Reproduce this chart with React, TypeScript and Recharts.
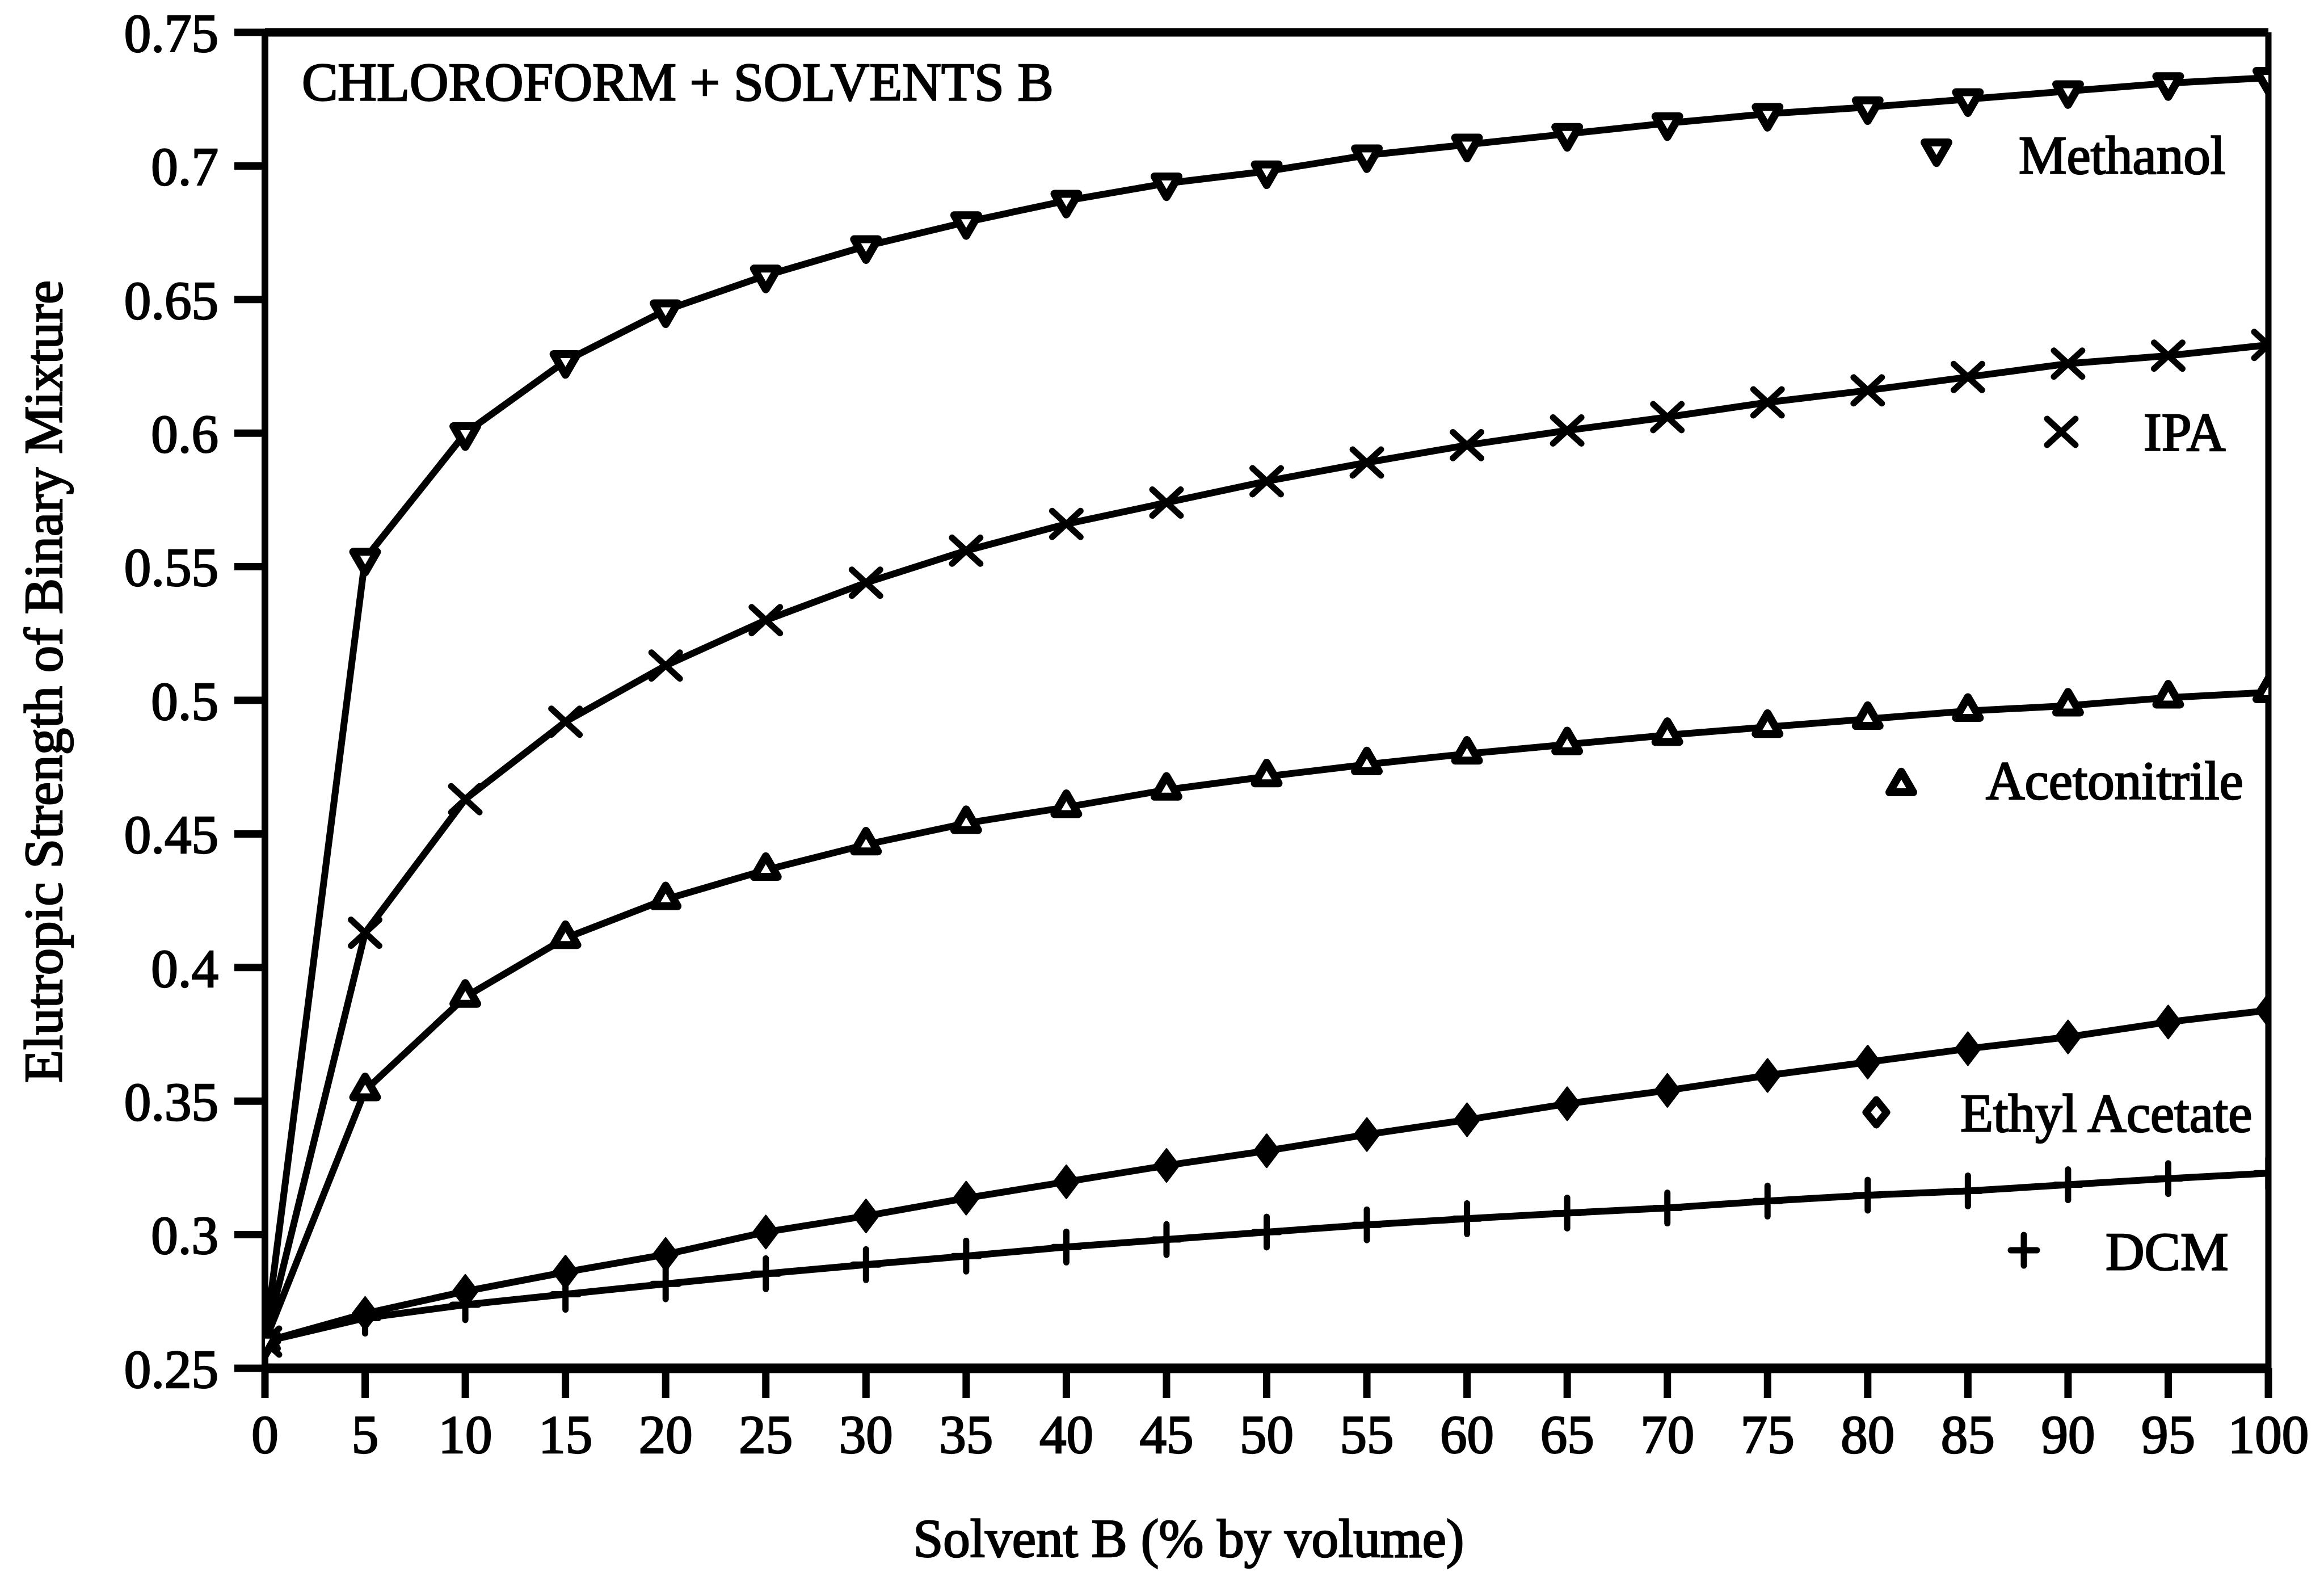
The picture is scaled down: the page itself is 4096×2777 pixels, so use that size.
import { LineChart, Line, XAxis, YAxis, ReferenceLine } from 'recharts';

// Solvent B (% by volume)
const solventB = [0, 5, 10, 15, 20, 25, 30, 35, 40, 45, 50, 55, 60, 65, 70, 75, 80, 85, 90, 95, 100];

// Elutropic strength of the binary mixture
const methanol = [0.26, 0.553, 0.6, 0.627, 0.646, 0.659, 0.67, 0.679, 0.687, 0.6935, 0.698, 0.704, 0.708, 0.712, 0.716, 0.7195, 0.722, 0.725, 0.728, 0.731, 0.733];
const ipa = [0.26, 0.413, 0.463, 0.492, 0.513, 0.53, 0.544, 0.556, 0.566, 0.574, 0.582, 0.589, 0.5955, 0.601, 0.606, 0.6115, 0.616, 0.621, 0.626, 0.629, 0.633];
const acetonitrile = [0.26, 0.354, 0.389, 0.411, 0.4255, 0.4365, 0.446, 0.454, 0.46, 0.4665, 0.4715, 0.476, 0.48, 0.4835, 0.487, 0.49, 0.493, 0.496, 0.498, 0.501, 0.503];
const ethylAcetate = [0.26, 0.2705, 0.2788, 0.286, 0.2926, 0.301, 0.307, 0.3137, 0.3198, 0.3259, 0.3314, 0.3375, 0.343, 0.349, 0.354, 0.3596, 0.3646, 0.3696, 0.374, 0.3796, 0.384];
const dcm = [0.26, 0.2688, 0.2738, 0.2777, 0.2816, 0.2854, 0.2888, 0.292, 0.2954, 0.2982, 0.301, 0.3037, 0.306, 0.3081, 0.31, 0.3126, 0.3148, 0.3164, 0.3187, 0.321, 0.323];

const xTicks = [0, 5, 10, 15, 20, 25, 30, 35, 40, 45, 50, 55, 60, 65, 70, 75, 80, 85, 90, 95, 100];
const yTicks = [0.25, 0.3, 0.35, 0.4, 0.45, 0.5, 0.55, 0.6, 0.65, 0.7, 0.75];

const chartTitle = 'CHLOROFORM + SOLVENTS B';
const xTitle = 'Solvent B (% by volume)';
const yTitle = 'Elutropic Strength of Binary Mixture';

const data = solventB.map((x, i) => ({
  x,
  methanol: methanol[i],
  ipa: ipa[i],
  acetonitrile: acetonitrile[i],
  ethylAcetate: ethylAcetate[i],
  dcm: dcm[i]
}));

const W = 4096;
const H = 2777;
const FONT = '"Liberation Serif", "Times New Roman", serif';
const INK = '#000';
const LINE_W = 12;

type Pt = { cx: number; cy: number };

// marker shapes
const TriDown = ({ cx, cy }: Pt) => {
  const s = 42;
  const h = (s * Math.sqrt(3)) / 2;
  const pts = `${cx - s / 2},${cy - h / 3} ${cx + s / 2},${cy - h / 3} ${cx},${cy + (2 * h) / 3}`;
  return <polygon points={pts} fill="#fff" stroke={INK} strokeWidth={14} strokeLinejoin="round" />;
};

const TriUp = ({ cx, cy }: Pt) => {
  const s = 42;
  const h = (s * Math.sqrt(3)) / 2;
  const pts = `${cx - s / 2},${cy + h / 3} ${cx + s / 2},${cy + h / 3} ${cx},${cy - (2 * h) / 3}`;
  return <polygon points={pts} fill="#fff" stroke={INK} strokeWidth={14} strokeLinejoin="round" />;
};

const Cross = ({ cx, cy }: Pt) => (
  <g stroke={INK} strokeWidth={11} strokeLinecap="round">
    <line x1={cx - 25} y1={cy - 23} x2={cx + 25} y2={cy + 23} />
    <line x1={cx - 25} y1={cy + 23} x2={cx + 25} y2={cy - 23} />
  </g>
);

const Diamond = ({ cx, cy, hollow = false }: Pt & { hollow?: boolean }) => {
  if (hollow) {
    const pts = `${cx},${cy - 22} ${cx + 18},${cy} ${cx},${cy + 22} ${cx - 18},${cy}`;
    return <polygon points={pts} fill="#fff" stroke={INK} strokeWidth={13} strokeLinejoin="round" />;
  }
  const pts = `${cx},${cy - 29} ${cx + 22},${cy} ${cx},${cy + 29} ${cx - 22},${cy}`;
  return <polygon points={pts} fill={INK} stroke={INK} strokeWidth={3} strokeLinejoin="round" />;
};

const Plus = ({ cx, cy }: Pt) => (
  <g stroke={INK} strokeWidth={11} strokeLinecap="round">
    <line x1={cx} y1={cy - 27} x2={cx} y2={cy + 27} />
    <line x1={cx - 23} y1={cy} x2={cx + 23} y2={cy} />
  </g>
);

const makeDot = (name: string, Shape: (p: Pt) => any) =>
  (props: any) => {
    const { cx, cy, index } = props;
    if (cx == null || cy == null) return <g key={`${name}-${String(index)}`} />;
    return (
      <g key={`${name}-${String(index)}`}>
        <Shape cx={cx} cy={cy} />
      </g>
    );
  };

const tickStyle = {
  fill: INK,
  stroke: INK,
  strokeWidth: 2.5,
  fontSize: 95,
  fontFamily: FONT
};

const textStyle = {
  fill: INK,
  stroke: INK,
  strokeWidth: 2.5,
  fontSize: 95,
  fontFamily: FONT
} as const;

export default function App() {
  return (
    <div style={{ position: 'absolute', left: 0, top: 0, width: W, height: H, background: '#fff' }}>
      <LineChart
        width={W}
        height={H}
        data={data}
        margin={{ top: 57, right: 98, bottom: 0, left: 0 }}
      >
        <XAxis
          dataKey="x"
          type="number"
          domain={[0, 100]}
          ticks={xTicks}
          interval={0}
          height={366}
          tickSize={52}
          tickMargin={30}
          axisLine={{ stroke: INK, strokeWidth: 17 }}
          tickLine={{ stroke: INK, strokeWidth: 13 }}
          tick={tickStyle}
          allowDataOverflow
        />
        <YAxis
          type="number"
          domain={[0.25, 0.75]}
          ticks={yTicks}
          interval={0}
          width={467}
          tickSize={54}
          tickMargin={28}
          axisLine={{ stroke: INK, strokeWidth: 12 }}
          tickLine={{ stroke: INK, strokeWidth: 13 }}
          tick={tickStyle}
          allowDataOverflow
        />
        <ReferenceLine y={0.75} stroke={INK} strokeWidth={15} />
        <ReferenceLine x={100} stroke={INK} strokeWidth={11} />

        <Line
          dataKey="dcm"
          type="linear"
          stroke={INK}
          strokeWidth={LINE_W}
          dot={makeDot('dcm', Plus)}
          activeDot={false}
          isAnimationActive={false}
        />
        <Line
          dataKey="ethylAcetate"
          type="linear"
          stroke={INK}
          strokeWidth={LINE_W}
          dot={makeDot('ethyl', Diamond)}
          activeDot={false}
          isAnimationActive={false}
        />
        <Line
          dataKey="acetonitrile"
          type="linear"
          stroke={INK}
          strokeWidth={LINE_W}
          dot={makeDot('acn', TriUp)}
          activeDot={false}
          isAnimationActive={false}
        />
        <Line
          dataKey="ipa"
          type="linear"
          stroke={INK}
          strokeWidth={LINE_W}
          dot={makeDot('ipa', Cross)}
          activeDot={false}
          isAnimationActive={false}
        />
        <Line
          dataKey="methanol"
          type="linear"
          stroke={INK}
          strokeWidth={LINE_W}
          dot={makeDot('meoh', TriDown)}
          activeDot={false}
          isAnimationActive={false}
        />
      </LineChart>

      {/* titles and in-plot legend */}
      <svg
        width={W}
        height={H}
        style={{ position: 'absolute', left: 0, top: 0, pointerEvents: 'none' }}
      >
        <text x={532} y={177} {...textStyle}>{chartTitle}</text>
        <text x={2095} y={2743} textAnchor="middle" {...textStyle}>{xTitle}</text>
        <text transform="translate(109,1201) rotate(-90)" textAnchor="middle" {...textStyle}>{yTitle}</text>

        <TriDown cx={3413} cy={263} />
        <text x={3558} y={306} {...textStyle}>Methanol</text>

        <Cross cx={3633} cy={761} />
        <text x={3778} y={794} {...textStyle}>IPA</text>

        <TriUp cx={3351} cy={1384} />
        <text x={3500} y={1408} {...textStyle}>Acetonitrile</text>

        <Diamond cx={3307} cy={1960} hollow />
        <text x={3455} y={1994} {...textStyle}>Ethyl Acetate</text>

        <Plus cx={3567} cy={2203} />
        <text x={3711} y={2238} {...textStyle}>DCM</text>
      </svg>
    </div>
  );
}
